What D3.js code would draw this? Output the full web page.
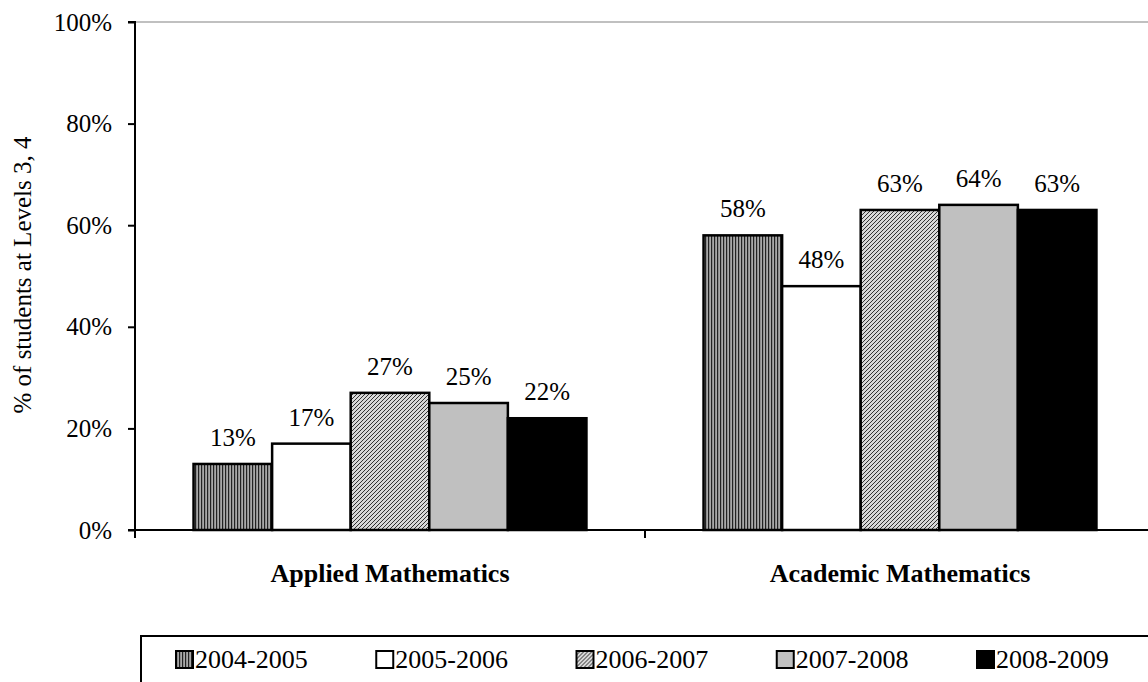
<!DOCTYPE html>
<html>
<head>
<meta charset="utf-8">
<script src="https://cdn.jsdelivr.net/npm/d3@7"></script>
<style>
  body { margin: 0; background: #fff; }
  text { font-family: "Liberation Serif", "Times New Roman", serif; fill: #000; }
</style>
</head>
<body>
<svg id="chart" width="1148" height="682"></svg>
<script>
'use strict';

var categories = ['Applied Mathematics', 'Academic Mathematics'];
var years = ['2004-2005', '2005-2006', '2006-2007', '2007-2008', '2008-2009'];
var applied = [13, 17, 27, 25, 22];
var academic = [58, 48, 63, 64, 63];
var yTicks = [0, 20, 40, 60, 80, 100];

var fills = ['url(#vstripe)', '#ffffff', 'url(#diag)', '#c0c0c0', '#000000'];

var svg = d3.select('#chart');
var defs = svg.append('defs');

// vertical stripes for 2004-2005
var vs = defs.append('pattern').attr('id', 'vstripe')
  .attr('patternUnits', 'userSpaceOnUse').attr('width', 3).attr('height', 3);
vs.append('rect').attr('width', 3).attr('height', 3).attr('fill', '#a8a8a8');
vs.append('rect').attr('width', 1.2).attr('height', 3).attr('fill', '#222');

// fine diagonal hatch for 2006-2007
var dg = defs.append('pattern').attr('id', 'diag')
  .attr('patternUnits', 'userSpaceOnUse').attr('width', 4).attr('height', 4);
dg.append('rect').attr('width', 4).attr('height', 4).attr('fill', '#d8d8d8');
dg.append('path').attr('d', 'M-1,1 l2,-2 M0,4 l4,-4 M3,5 l2,-2')
  .attr('stroke', '#333').attr('stroke-width', 1);

var plotLeft = 135, plotRight = 1155, plotTop = 22, plotBottom = 530;

var y = d3.scaleLinear().domain([0, 100]).range([plotBottom, plotTop]);
var x0 = d3.scaleBand().domain(categories).range([plotLeft, plotRight]);
var x1 = d3.scaleBand().domain(years).range([0, x0.bandwidth()]).paddingOuter(0.745);

// top border of plot area
svg.append('line')
  .attr('x1', plotLeft).attr('x2', 1148).attr('y1', y(100)).attr('y2', y(100))
  .attr('stroke', '#c0c0c0').attr('stroke-width', 2);

var rows = [applied, academic];
var groups = svg.selectAll('.grp').data(categories).enter().append('g')
  .attr('class', 'grp')
  .attr('transform', function(d){ return 'translate(' + x0(d) + ',0)'; });

groups.each(function(c, ci){
  var g = d3.select(this);
  var vals = rows[ci].map(function(v, i){ return {year: years[i], v: v, i: i}; });
  g.selectAll('rect').data(vals).enter().append('rect')
    .attr('x', function(d){ return x1(d.year); })
    .attr('y', function(d){ return y(d.v); })
    .attr('width', x1.bandwidth())
    .attr('height', function(d){ return y(0) - y(d.v); })
    .attr('fill', function(d){ return fills[d.i]; })
    .attr('stroke', '#000').attr('stroke-width', 2.5);
  g.selectAll('.val').data(vals).enter().append('text')
    .attr('class', 'val')
    .attr('x', function(d){ return x1(d.year) + x1.bandwidth() / 2; })
    .attr('y', function(d){ return y(d.v) - 18; })
    .attr('text-anchor', 'middle')
    .style('font-size', '25px')
    .text(function(d){ return d.v + '%'; });
});

// y axis
var yAxis = d3.axisLeft(y).tickValues(yTicks).tickSize(7).tickPadding(16)
  .tickFormat(function(d){ return d + '%'; });
var ya = svg.append('g').attr('transform', 'translate(' + plotLeft + ',0)').call(yAxis);
ya.select('.domain').attr('stroke', '#000').attr('stroke-width', 2)
  .attr('d', 'M-7,' + plotTop + 'H0V' + (plotBottom + 8));
ya.selectAll('.tick line').attr('stroke', '#000').attr('stroke-width', 2);
ya.selectAll('.tick text').style('font-size', '25px')
  .style('font-family', '"Liberation Serif", serif');

// x axis
var xa = svg.append('g').attr('transform', 'translate(0,' + plotBottom + ')');
xa.append('line').attr('x1', plotLeft - 7).attr('x2', 1148).attr('y1', 0).attr('y2', 0)
  .attr('stroke', '#000').attr('stroke-width', 2);
xa.append('line').attr('x1', x0(categories[1])).attr('x2', x0(categories[1]))
  .attr('y1', 0).attr('y2', 8).attr('stroke', '#000').attr('stroke-width', 2);
xa.selectAll('.cat').data(categories).enter().append('text')
  .attr('class', 'cat')
  .attr('x', function(d){ return x0(d) + x0.bandwidth() / 2; })
  .attr('y', 52)
  .attr('text-anchor', 'middle')
  .style('font-size', '26px').style('font-weight', 'bold')
  .text(function(d){ return d; });

// y title
svg.append('text')
  .attr('transform', 'translate(31,275) rotate(-90)')
  .attr('text-anchor', 'middle')
  .style('font-size', '25px')
  .text('% of students at Levels 3, 4');

// legend
var lg = svg.append('g');
lg.append('rect').attr('x', 141).attr('y', 636).attr('width', 1020).attr('height', 60)
  .attr('fill', 'none').attr('stroke', '#000').attr('stroke-width', 2);
var legX = d3.scalePoint().domain(years).range([176, 977]);
var items = lg.selectAll('.li').data(years).enter().append('g')
  .attr('transform', function(d){ return 'translate(' + legX(d) + ',651)'; });
items.append('rect').attr('width', 17).attr('height', 17)
  .attr('fill', function(d, i){ return fills[i]; })
  .attr('stroke', '#000').attr('stroke-width', 2);
items.append('text').attr('x', 19).attr('y', 17)
  .style('font-size', '26px')
  .text(function(d){ return d; });
</script>
</body>
</html>
